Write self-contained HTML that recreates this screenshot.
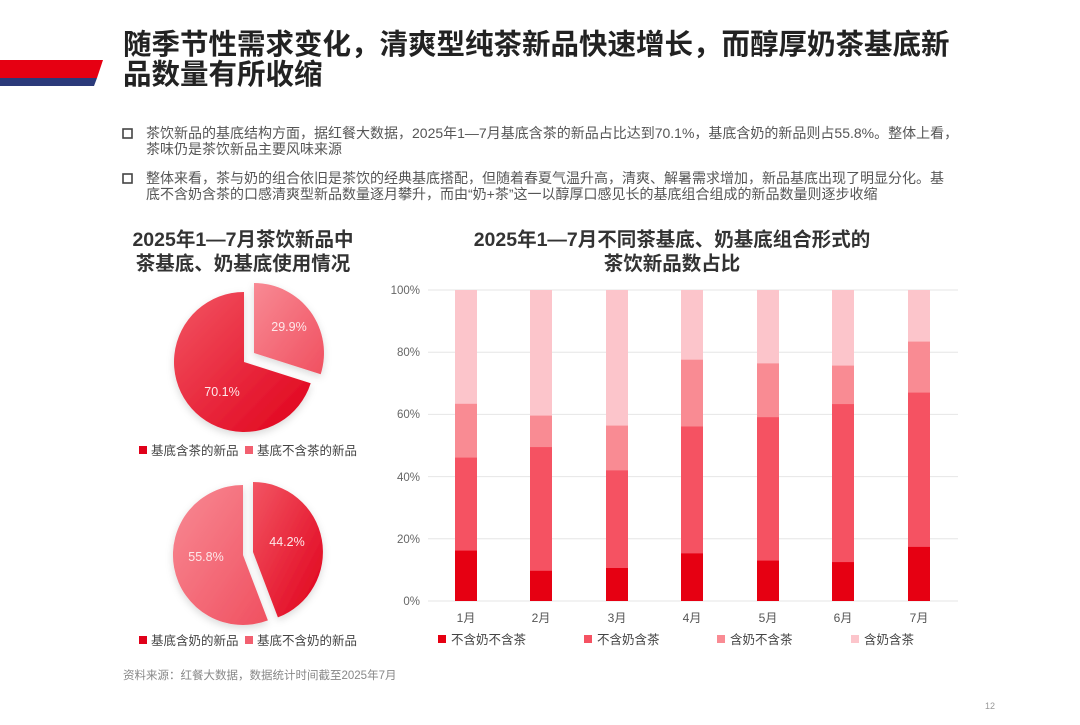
<!DOCTYPE html>
<html><head><meta charset="utf-8"><style>
body{margin:0;background:#fff;width:1080px;height:720px;overflow:hidden;font-family:"Liberation Sans","Noto Sans CJK SC",sans-serif;}
</style></head><body>
<svg width="1080" height="720" xmlns="http://www.w3.org/2000/svg" font-family="Liberation Sans, Noto Sans CJK SC, sans-serif">
<defs>
<linearGradient id="g1" x1="0" y1="0" x2="1" y2="1"><stop offset="0" stop-color="#f25563"/><stop offset="1" stop-color="#e0001a"/></linearGradient>
<linearGradient id="g2" x1="0" y1="0" x2="1" y2="1"><stop offset="0" stop-color="#f88a94"/><stop offset="1" stop-color="#f05060"/></linearGradient>
<filter id="sh" x="-20%" y="-20%" width="140%" height="140%"><feDropShadow dx="0" dy="3" stdDeviation="4" flood-color="#000" flood-opacity="0.15"/></filter>
</defs>
<polygon points="0,60 103,60 97,78 0,78" fill="#e60012"/>
<polygon points="0,78 97,78 94,86 0,86" fill="#2b3a7a"/>
<text x="123" y="54" font-size="28.5" font-weight="bold" fill="#222">随季节性需求变化，清爽型纯茶新品快速增长，而醇厚奶茶基底新</text>
<text x="123" y="84" font-size="28.5" font-weight="bold" fill="#222">品数量有所收缩</text>
<g font-size="14" fill="#555">
<rect x="123" y="129" width="9" height="9" fill="none" stroke="#444" stroke-width="1.6"/>
<text x="146" y="138">茶饮新品的基底结构方面，据红餐大数据，2025年1—7月基底含茶的新品占比达到70.1%，基底含奶的新品则占55.8%。整体上看，</text>
<text x="146" y="154">茶味仍是茶饮新品主要风味来源</text>
<rect x="123" y="174" width="9" height="9" fill="none" stroke="#444" stroke-width="1.6"/>
<text x="146" y="183">整体来看，茶与奶的组合依旧是茶饮的经典基底搭配，但随着春夏气温升高，清爽、解暑需求增加，新品基底出现了明显分化。基</text>
<text x="146" y="199">底不含奶含茶的口感清爽型新品数量逐月攀升，而由“奶+茶”这一以醇厚口感见长的基底组合组成的新品数量则逐步收缩</text>
</g>
<g font-size="19.5" font-weight="bold" fill="#333" text-anchor="middle">
<text x="243" y="246">2025年1—7月茶饮新品中</text>
<text x="243" y="270">茶基底、奶基底使用情况</text>
<text x="672" y="246">2025年1—7月不同茶基底、奶基底组合形式的</text>
<text x="672" y="270">茶饮新品数占比</text>
</g>
<g filter="url(#sh)">
<path d="M244,362 L310.7,383.2 A70,70 0 1 1 244,292 Z" fill="url(#g1)"/>
<path d="M254,353 L254,283 A70,70 0 0 1 320.7,374.2 Z" fill="url(#g2)"/>
<path d="M253,552 L253,482 A70,70 0 0 1 277.9,617.4 Z" fill="url(#g1)"/>
<path d="M243,555 L267.9,620.4 A70,70 0 1 1 243,485 Z" fill="url(#g2)"/>
</g>
<g font-size="12.5" fill="#fde8ea" text-anchor="middle">
<text x="289" y="331">29.9%</text><text x="222" y="396">70.1%</text>
<text x="287" y="546">44.2%</text><text x="206" y="561">55.8%</text>
</g>
<g font-size="12.5" fill="#444">
<rect x="139" y="446" width="8" height="8" fill="#e0001a"/><text x="151" y="455">基底含茶的新品</text>
<rect x="245" y="446" width="8" height="8" fill="#f26070"/><text x="257" y="455">基底不含茶的新品</text>
<rect x="139" y="636" width="8" height="8" fill="#e0001a"/><text x="151" y="645">基底含奶的新品</text>
<rect x="245" y="636" width="8" height="8" fill="#f26070"/><text x="257" y="645">基底不含奶的新品</text>
</g>
<g stroke="#e6e6e6" stroke-width="1">
<line x1="428" y1="290" x2="958" y2="290"/><line x1="428" y1="352.2" x2="958" y2="352.2"/>
<line x1="428" y1="414.4" x2="958" y2="414.4"/><line x1="428" y1="476.6" x2="958" y2="476.6"/>
<line x1="428" y1="538.8" x2="958" y2="538.8"/><line x1="428" y1="601" x2="958" y2="601"/>
</g>
<g font-size="11.5" fill="#666" text-anchor="end">
<text x="420" y="294">100%</text><text x="420" y="356">80%</text><text x="420" y="418">60%</text>
<text x="420" y="481">40%</text><text x="420" y="543">20%</text><text x="420" y="605">0%</text>
</g>
<g>
<rect x="455" y="290" width="22" height="311" fill="#fcc5cb"/><rect x="455" y="403.8" width="22" height="197.2" fill="#f98b93"/><rect x="455" y="457.6" width="22" height="143.4" fill="#f55262"/><rect x="455" y="550.6" width="22" height="50.4" fill="#e60012"/>
<rect x="530" y="290" width="22" height="311" fill="#fcc5cb"/><rect x="530" y="415.6" width="22" height="185.4" fill="#f98b93"/><rect x="530" y="447.1" width="22" height="153.9" fill="#f55262"/><rect x="530" y="570.8" width="22" height="30.2" fill="#e60012"/>
<rect x="606" y="290" width="22" height="311" fill="#fcc5cb"/><rect x="606" y="425.6" width="22" height="175.4" fill="#f98b93"/><rect x="606" y="470.4" width="22" height="130.6" fill="#f55262"/><rect x="606" y="568" width="22" height="33" fill="#e60012"/>
<rect x="681" y="290" width="22" height="311" fill="#fcc5cb"/><rect x="681" y="359.7" width="22" height="241.3" fill="#f98b93"/><rect x="681" y="426.5" width="22" height="174.5" fill="#f55262"/><rect x="681" y="553.4" width="22" height="47.6" fill="#e60012"/>
<rect x="757" y="290" width="22" height="311" fill="#fcc5cb"/><rect x="757" y="363.4" width="22" height="237.6" fill="#f98b93"/><rect x="757" y="417.2" width="22" height="183.8" fill="#f55262"/><rect x="757" y="560.6" width="22" height="40.4" fill="#e60012"/>
<rect x="832" y="290" width="22" height="311" fill="#fcc5cb"/><rect x="832" y="365.6" width="22" height="235.4" fill="#f98b93"/><rect x="832" y="404.1" width="22" height="196.9" fill="#f55262"/><rect x="832" y="562.1" width="22" height="38.9" fill="#e60012"/>
<rect x="908" y="290" width="22" height="311" fill="#fcc5cb"/><rect x="908" y="341.6" width="22" height="259.4" fill="#f98b93"/><rect x="908" y="392.6" width="22" height="208.4" fill="#f55262"/><rect x="908" y="546.9" width="22" height="54.1" fill="#e60012"/>
</g>
<g font-size="12" fill="#555" text-anchor="middle">
<text x="466" y="622">1月</text><text x="541" y="622">2月</text><text x="617" y="622">3月</text>
<text x="692" y="622">4月</text><text x="768" y="622">5月</text><text x="843" y="622">6月</text><text x="919" y="622">7月</text>
</g>
<g font-size="12.5" fill="#444">
<rect x="438" y="635" width="8" height="8" fill="#e60012"/><text x="451" y="644">不含奶不含茶</text>
<rect x="584" y="635" width="8" height="8" fill="#f55262"/><text x="597" y="644">不含奶含茶</text>
<rect x="717" y="635" width="8" height="8" fill="#f98b93"/><text x="730" y="644">含奶不含茶</text>
<rect x="851" y="635" width="8" height="8" fill="#fcc5cb"/><text x="864" y="644">含奶含茶</text>
</g>
<text x="123" y="679" font-size="11.5" fill="#888">资料来源：红餐大数据，数据统计时间截至2025年7月</text>
<text x="985" y="709" font-size="9" fill="#999">12</text>
</svg>
</body></html>
